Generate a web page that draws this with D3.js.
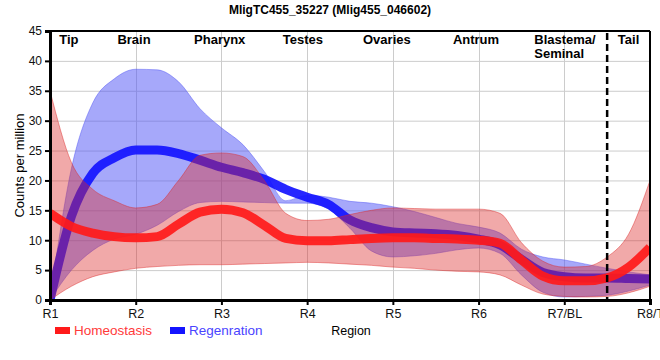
<!DOCTYPE html>
<html>
<head>
<meta charset="utf-8">
<script src="https://cdn.jsdelivr.net/npm/d3@7/dist/d3.min.js"></script>
<style>
  body { margin: 0; background: #fff; }
  svg { font-family: Arial, "Liberation Sans", sans-serif; }
</style>
</head>
<body>
<svg id="chart" width="660" height="360"></svg>
<script>
// region categories on the x axis
const categories = ["R1", "R2", "R3", "R4", "R5", "R6", "R7/BL", "R8/T"]
const yTicks = [0, 5, 10, 15, 20, 25, 30, 35, 40, 45]

// body region names printed inside the plot, with their position in category units
const regionNames = ["Tip", "Brain", "Pharynx", "Testes", "Ovaries", "Antrum", "Blastema/|Seminal", "Tail"]
const regionPos = [0.22, 0.98, 1.98, 2.95, 3.93, 4.97, 5.65, 6.75]
const tailBoundary = 6.5

// sample positions (category units) of the smoothed curves
const samplePos = [0, 0.25, 0.5, 0.75, 1, 1.25, 1.5, 1.75, 2, 2.25, 2.5, 2.75, 3, 3.25, 3.5, 3.75,
                   4, 4.25, 4.5, 4.75, 5, 5.25, 5.5, 5.75, 6, 6.25, 6.5, 6.75, 7]

// Homeostasis: mean and confidence band
const homeoMean = [14.5, 12.3, 11.2, 10.6, 10.4, 10.6, 12.7, 14.7, 15.2, 14.6, 12.5, 10.3, 9.9, 9.9, 10.1, 10.3,
                   10.4, 10.4, 10.3, 10.2, 10.0, 9.5, 6.7, 4.0, 3.2, 3.2, 3.7, 5.5, 8.8]
const homeoHigh = [35, 23, 18.5, 16.6, 15.4, 16, 20, 24.2, 24.6, 24, 20, 14.5, 13.3, 13.5, 14.3, 15,
                   15.4, 15.3, 15.2, 15.2, 15.2, 14.5, 9.6, 6.5, 5.5, 5.6, 7.2, 11, 20]
const homeoLow = [0, 2.3, 3.9, 4.7, 5.3, 5.6, 5.8, 5.9, 5.9, 6.0, 6.1, 6.2, 6.3, 6.2, 6.0, 5.8,
                  5.5, 5.3, 5.0, 4.8, 4.7, 4.2, 2.5, 1.0, 0.6, 0.5, 0.6, 1.2, 2.3]

// Regeneration: mean and confidence band
const regenMean = [0, 14, 21.2, 23.8, 25.1, 25.1, 24.5, 23.4, 22.2, 21.3, 20.2, 18.5, 17.2, 16, 13.4, 12.1,
                   11.4, 11.2, 11.1, 10.8, 10.2, 9.2, 6.8, 4.6, 3.9, 3.7, 3.7, 3.6, 3.5]
const regenHigh = [0, 22, 33, 37, 38.6, 38.5, 36.5, 32, 28.8, 26, 21.5, 16.6, 17.5, 17.2, 16.5, 16.2,
                   15.6, 14.8, 13.8, 12.8, 12.2, 11.2, 8.5, 7.2, 6.7, 6.0, 5.3, 4.7, 4.2]
const regenLow = [0, 5, 8.3, 10.2, 11, 12.5, 14.8, 16.3, 16.5, 16.4, 16.3, 16.2, 16.2, 15.2, 12, 8.2,
                  7.2, 7.4, 7.8, 8.4, 8.7, 7.8, 4.2, 1.3, 0.5, 0.6, 0.8, 1.5, 2.5]

const series = [
    {name: "Regenration", mean: regenMean, low: regenLow, high: regenHigh,
     band: "#4d52f5", bandOpacity: 0.5, line: "#1414ff", text: "#4a44ff"},
    {name: "Homeostasis", mean: homeoMean, low: homeoLow, high: homeoHigh,
     band: "#dc2828", bandOpacity: 0.4, line: "#ff1a1a", text: "#ff3a3a"}
]

const svg = d3.select("#chart")
const mLeft = 50, mRight = 650, mTop = 31, mBottom = 300

const x = d3.scaleLinear().domain([0, categories.length - 1]).range([mLeft, mRight])
const y = d3.scaleLinear().domain([0, 45]).range([mBottom, mTop])

svg.append("defs").append("clipPath").attr("id", "plotclip")
    .append("rect").attr("x", mLeft).attr("y", mTop)
    .attr("width", mRight - mLeft).attr("height", mBottom - mTop)

// grid
const grid = svg.append("g").attr("stroke", "#cccccc").attr("stroke-width", 1)
grid.selectAll(".hg").data(yTicks.slice(1)).enter().append("line")
    .attr("x1", mLeft).attr("x2", mRight)
    .attr("y1", d => y(d) + 0.5).attr("y2", d => y(d) + 0.5)
grid.selectAll(".vg").data(categories.slice(1, -1)).enter().append("line")
    .attr("y1", mTop).attr("y2", mBottom)
    .attr("x1", (d, i) => Math.round(x(i + 1)) + 0.5).attr("x2", (d, i) => Math.round(x(i + 1)) + 0.5)

const plot = svg.append("g").attr("clip-path", "url(#plotclip)")

series.forEach(s => {
    const pts = samplePos.map((p, i) => ({p: p, m: s.mean[i], lo: s.low[i], hi: s.high[i]}))
    const area = d3.area()
        .x(d => x(d.p)).y0(d => y(d.lo)).y1(d => y(d.hi))
        .curve(d3.curveMonotoneX)
    const line = d3.line()
        .x(d => x(d.p)).y(d => y(d.m))
        .curve(d3.curveMonotoneX)
    plot.append("path").datum(pts)
        .attr("d", area)
        .attr("fill", s.band).attr("fill-opacity", s.bandOpacity)
        .attr("stroke", s.band).attr("stroke-opacity", 0.45).attr("stroke-width", 1)
    plot.append("path").datum(pts)
        .attr("d", line)
        .attr("fill", "none")
        .attr("stroke", s.line).attr("stroke-width", 9)
        .attr("stroke-opacity", 0.92)
})

// tail boundary
svg.append("line")
    .attr("x1", x(tailBoundary)).attr("x2", x(tailBoundary))
    .attr("y1", mTop + 2).attr("y2", mBottom)
    .attr("stroke", "#000").attr("stroke-width", 2.5)
    .attr("stroke-dasharray", "7,4")

// frame
svg.append("line").attr("x1", mLeft).attr("x2", mRight).attr("y1", mTop).attr("y2", mTop)
    .attr("stroke", "#000").attr("stroke-width", 2)
svg.append("line").attr("x1", mRight).attr("x2", mRight).attr("y1", mTop).attr("y2", mBottom)
    .attr("stroke", "#000").attr("stroke-width", 2)

// axes
const yAxis = svg.append("g").attr("transform", `translate(${mLeft},0)`)
    .call(d3.axisLeft(y).tickValues(yTicks).tickSize(5).tickPadding(3))
const xAxis = svg.append("g").attr("transform", `translate(0,${mBottom})`)
    .call(d3.axisBottom(x).tickValues(d3.range(categories.length))
        .tickFormat(i => categories[i]).tickSize(5).tickPadding(4))
;[yAxis, xAxis].forEach(a => {
    a.select(".domain").attr("stroke", "#000").attr("stroke-width", 3)
    a.selectAll(".tick line").attr("stroke", "#000").attr("stroke-width", 2)
    a.selectAll(".tick text").attr("fill", "#111").style("font-size", "12px")
        .style("font-family", "Arial, 'Liberation Sans', sans-serif")
})
xAxis.selectAll(".tick text").style("font-size", "12.5px")

// region names
const names = svg.append("g").style("font-size", "13px").style("font-weight", "bold").attr("fill", "#000")
regionNames.forEach((n, i) => {
    const parts = n.split("|")
    if (parts.length > 1) {
        parts.forEach((p, j) => names.append("text")
            .attr("x", x(regionPos[i])).attr("y", 44 + j * 14).text(p))
    } else {
        names.append("text").attr("x", x(regionPos[i])).attr("y", 44)
            .attr("text-anchor", "middle").text(n)
    }
})

// title
svg.append("text").attr("x", 330).attr("y", 14).attr("text-anchor", "middle")
    .style("font-size", "12px").style("font-weight", "bold")
    .text("MligTC455_35227 (Mlig455_046602)")

// axis titles
svg.append("text").attr("transform", `translate(24,${(mTop + mBottom) / 2}) rotate(-90)`)
    .attr("text-anchor", "middle").style("font-size", "13px")
    .text("Counts per million")
svg.append("text").attr("x", 351).attr("y", 335).attr("text-anchor", "middle")
    .style("font-size", "12.5px").text("Region")

// legend
const legendItems = [series[1], series[0]]
const legend = svg.append("g")
let lx = 55
legendItems.forEach(s => {
    legend.append("rect").attr("x", lx).attr("y", 327).attr("width", 15).attr("height", 7)
        .attr("fill", s.line)
    legend.append("text").attr("x", lx + 19).attr("y", 335)
        .style("font-size", "13.5px").attr("fill", s.text).text(s.name)
    lx += 115
})
</script>
</body>
</html>
